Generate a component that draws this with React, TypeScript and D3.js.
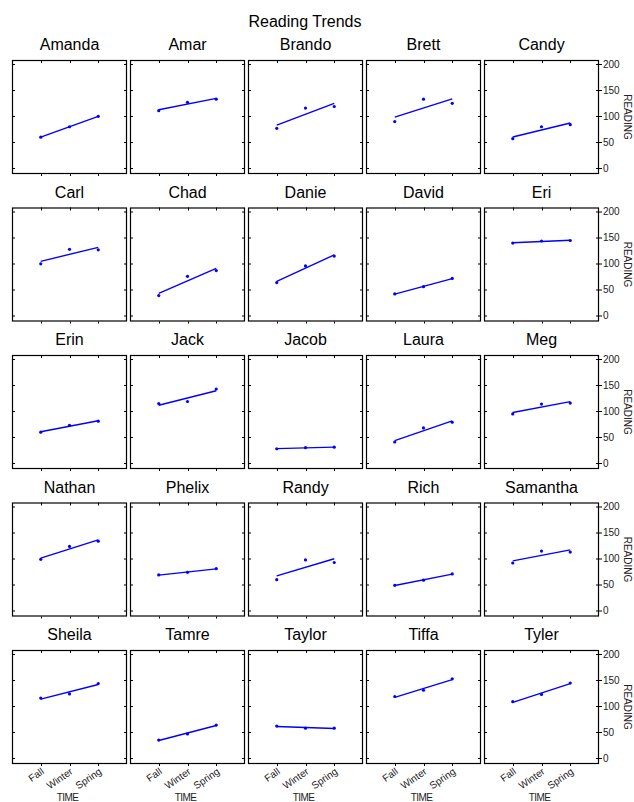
import React from 'react';
import * as d3 from 'd3';

// students in panel order (5 per row)
const students = [
  'Amanda', 'Amar', 'Brando', 'Brett', 'Candy',
  'Carl', 'Chad', 'Danie', 'David', 'Eri',
  'Erin', 'Jack', 'Jacob', 'Laura', 'Meg',
  'Nathan', 'Phelix', 'Randy', 'Rich', 'Samantha',
  'Sheila', 'Tamre', 'Taylor', 'Tiffa', 'Tyler',
];
const times = ['Fall', 'Winter', 'Spring'];

// reading scores
const fall = [60, 111, 77, 90, 57, 100, 39, 64, 42, 140, 60, 115, 28, 41, 95, 99, 69, 60, 49, 92, 116, 35, 62, 119, 109];
const winter = [80, 127, 116, 133, 80, 128, 76, 96, 56, 144, 73, 119, 30, 68, 114, 124, 74, 98, 59, 115, 124, 47, 58, 131, 123];
const spring = [100, 133, 119, 125, 84, 127, 87, 115, 72, 145, 81, 143, 31, 79, 116, 134, 81, 93, 71, 113, 144, 64, 58, 153, 145];

const yTicks = [0, 50, 100, 150, 200];

const FONT = '"Liberation Sans", Arial, sans-serif';

export default function App() {
  const cols = 5;
  const pw = 115;
  const ph = 114;
  const left0 = 12;
  const top0 = 60;
  const stepX = 118;
  const stepY = 147.5;

  const x = d3.scaleLinear().domain([0, 4]).range([0, pw]);
  const y = d3.scaleLinear().domain([-11, 208.5]).range([ph, 0]);
  const xIdx = times.map((t, i) => i + 1);
  const line = d3.line<[number, number]>().x(d => x(d[0])).y(d => y(d[1]));
  const nRows = Math.ceil(students.length / cols);

  return (
    <svg width={634} height={802} style={{ position: 'absolute', left: 0, top: 0, background: '#fff' }} fontFamily={FONT}>
      <text x={305} y={27} fontSize={16} textAnchor="middle" fill="#000">Reading Trends</text>
      {students.map((name, i) => {
        const col = i % cols;
        const row = Math.floor(i / cols);
        const tx = left0 + col * stepX;
        const ty = top0 + row * stepY;
        const vals = [fall[i], winter[i], spring[i]];
        // least squares fit over Fall/Winter/Spring
        const mean = d3.mean(vals) as number;
        const slope = (vals[2] - vals[0]) / 2;
        const fit: [number, number][] = [[1, mean - slope], [3, mean + slope]];
        const lastCol = col === cols - 1;
        const lastRow = row === nRows - 1;
        return (
          <g key={name} transform={`translate(${tx},${ty})`}>
            <text x={pw / 2} y={-10} fontSize={16} textAnchor="middle" fill="#000">{name}</text>
            <rect x={0.5} y={0.5} width={pw - 1} height={ph - 1} fill="none" stroke="#000" strokeWidth={1.2} />
            {yTicks.map(t => (
              <g key={t}>
                <line x1={0} x2={3} y1={Math.round(y(t)) + 0.5} y2={Math.round(y(t)) + 0.5} stroke="#000" />
                <line x1={pw - 3} x2={pw} y1={Math.round(y(t)) + 0.5} y2={Math.round(y(t)) + 0.5} stroke="#000" />
                {lastCol && (
                  <>
                    <line x1={pw} x2={pw + 3} y1={Math.round(y(t)) + 0.5} y2={Math.round(y(t)) + 0.5} stroke="#000" />
                    <text x={pw + 4} y={y(t) + 3.5} fontSize={10} fill="#222">{t}</text>
                  </>
                )}
              </g>
            ))}
            {xIdx.map((v, k) => (
              <g key={k}>
                <line x1={Math.round(x(v)) + 0.5} x2={Math.round(x(v)) + 0.5} y1={0} y2={3} stroke="#000" />
                <line x1={Math.round(x(v)) + 0.5} x2={Math.round(x(v)) + 0.5} y1={ph} y2={ph + 2} stroke="#000" />
                {lastRow && (
                  <text
                    transform={`translate(${x(v) + 4},${ph + 9}) rotate(-35)`}
                    fontSize={10}
                    textAnchor="end"
                    fill="#222"
                  >{times[k]}</text>
                )}
              </g>
            ))}
            {lastRow && (
              <text x={pw / 2 - 2} y={ph + 37} fontSize={10} letterSpacing={-0.6} textAnchor="middle" fill="#222">TIME</text>
            )}
            {lastCol && (
              <text
                transform={`translate(${pw + 25},${ph / 2}) rotate(90)`}
                fontSize={10}
                textAnchor="middle"
                fill="#222"
              >READING</text>
            )}
            <path d={line(fit) as string} fill="none" stroke="#0000ff" strokeWidth={1.4} />
            {vals.map((v, k) => (
              <circle key={k} cx={x(k + 1)} cy={y(v)} r={1.6} fill="#0000ff" />
            ))}
          </g>
        );
      })}
    </svg>
  );
}
